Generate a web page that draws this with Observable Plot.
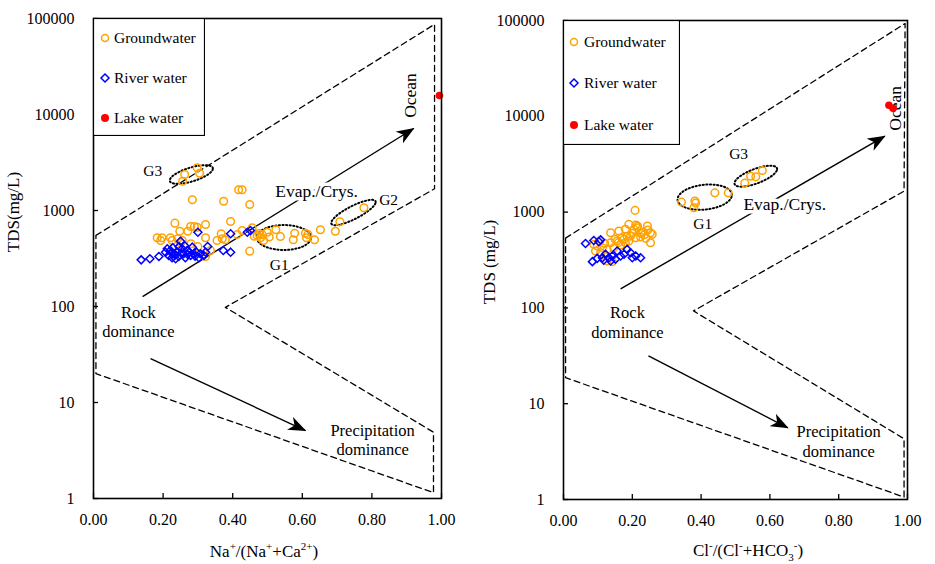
<!DOCTYPE html>
<html><head><meta charset="utf-8">
<script src="https://cdn.jsdelivr.net/npm/d3@7"></script>
<script src="https://cdn.jsdelivr.net/npm/@observablehq/plot@0.6"></script>
<style>
body{margin:0;background:#fff;font-family:"Liberation Serif","DejaVu Serif",serif;}
#wrap{position:relative;width:935px;height:564px;overflow:hidden;}
.panel{position:absolute;top:0;}
.ttl{position:absolute;font-size:17px;white-space:nowrap;color:#000;}
.ttl sup,.ttl sub{font-size:11px;}
.lg{position:absolute;}
</style></head><body><div id="wrap"></div>
<script>
// ---------------- data ----------------
const xTicks = [0, 0.2, 0.4, 0.6, 0.8, 1.0];
const yTicks = [1, 10, 100, 1000, 10000, 100000];

// Left panel: Na+/(Na+ + Ca2+) vs TDS
const gwLeft = [
  [0.262,2371],[0.298,2786],[0.305,2447],[0.256,2019],
  [0.417,1643],[0.427,1643],[0.284,1292],[0.374,1250],[0.449,1155],
  [0.777,1067],[0.708,762],
  [0.394,768],[0.234,738],[0.279,681],[0.290,681],[0.298,670],[0.322,715],
  [0.248,608],[0.271,608],[0.367,572],[0.427,619],[0.456,661],[0.499,594],[0.524,630],
  [0.537,536],[0.578,580],[0.574,495],[0.609,580],[0.616,562],[0.612,520],[0.635,495],
  [0.652,630],[0.695,608],
  [0.183,520],[0.197,520],[0.193,487],[0.226,487],[0.221,520],[0.242,507],[0.255,487],
  [0.355,487],[0.370,507],[0.379,495],[0.480,520],[0.489,487],[0.322,520],
  [0.336,383],[0.322,332],[0.449,377],[0.413,562],[0.470,549],
  [0.462,540],[0.475,575],[0.485,560],[0.505,530],[0.28,450],[0.30,420],[0.25,460]
];
const riverLeft = [
  [0.137,306],[0.162,314],[0.188,332],[0.207,368],[0.216,340],[0.226,322],[0.221,383],
  [0.231,354],[0.241,368],[0.236,314],[0.245,332],[0.250,479],[0.255,399],[0.259,354],
  [0.264,322],[0.269,383],[0.279,340],[0.284,415],[0.288,354],[0.296,368],[0.303,322],
  [0.300,594],[0.307,354],[0.317,340],[0.328,422],[0.322,368],[0.373,383],[0.394,572],
  [0.394,368],[0.442,594],[0.451,619],
  [0.212,400],[0.228,410],[0.246,420],[0.262,430],[0.275,370],[0.292,335],[0.235,345],
  [0.252,360],[0.270,350],[0.225,360]
];
const lakeLeft = [[0.994,15800]];

// Right panel: Cl-/(Cl- + HCO3-) vs TDS
const gwRight = [
  [0.343,1271],[0.382,1303],[0.384,1241],[0.379,1109],[0.440,1588],[0.479,1588],
  [0.527,2005],[0.544,2371],[0.559,2333],[0.578,2718],
  [0.208,1042],[0.190,745],[0.215,715],[0.244,715],[0.137,479],[0.156,499],[0.176,520],
  [0.195,562],[0.210,540],[0.224,549],[0.239,532],[0.253,479],[0.088,461],[0.098,443],
  [0.113,425],[0.127,408],[0.146,425],[0.166,453],[0.180,479],[0.093,393],[0.108,377],
  [0.122,348],[0.127,309],[0.142,304],[0.210,733],[0.215,686],[0.253,608],[0.258,586],
  [0.137,608],[0.161,634],[0.180,661],
  [0.200,600],[0.185,560],[0.170,540],[0.150,520],[0.230,620],[0.245,650],[0.225,600],
  [0.120,470],[0.105,500],[0.160,480],[0.190,500],[0.235,580],[0.205,660]
];
const riverRight = [
  [0.064,470],[0.088,505],[0.103,490],[0.108,515],[0.084,304],[0.098,329],[0.113,334],
  [0.122,363],[0.132,334],[0.142,348],[0.151,322],[0.156,393],[0.166,348],[0.176,363],
  [0.185,408],[0.195,377],[0.200,334],[0.210,348],[0.224,334],[0.117,314],[0.137,309]
];
const lakeRight = [[0.946,13030],[0.958,12110]];

// Gibbs boundary (dashed) vertices
const gibbsLeft = [[0.007,550],[0.98,87000],[0.98,1683],[0.379,98],[0.977,4.9],[0.977,1.15],[0.007,20],[0.007,550]];
const gibbsRight = [[0.006,535],[0.993,93000],[0.99,1655],[0.378,93],[0.99,4.3],[0.99,1.06],[0.006,18.7],[0.006,535]];

// Arrows: [x1, tds1, x2, tds2]
const arrowsLeft = [[0.141,127,0.920,7150],[0.164,28.7,0.609,5.1]];
const arrowsRight = [[0.166,158,0.934,6200],[0.247,31.6,0.652,5.6]];

// Group ellipses: [label, cx, cTDS, rx, rDecades, shear]
const ellipsesLeft = [["G3",0.281,2371,0.062,0.075,1.0],["G1",0.547,523,0.078,0.13,0],["G2",0.747,953,0.064,0.075,1.7]];
const ellipsesRight = [["G1",0.4105,1432,0.079,0.13,0.3],["G3",0.559,2371,0.062,0.08,1.2]];

// Annotation labels: [text, x, tds, rotate, halo, size]
const labelsLeft = [
  ["Rock\ndominance",0.129,69.8,0,false,16.5],["Precipitation\ndominance",0.802,4.12,0,false,16.5],
  ["Evap./Crys.",0.641,1578,0,true,17.5],["Ocean",0.908,15780,-90,false,17.5],
  ["G3",0.17,2612,0,false,15.5],["G1",0.534,274,0,false,15.5],["G2",0.848,1303,0,false,15.5]
];
const labelsRight = [
  ["Rock\ndominance",0.186,71.5,0,false,16.5],["Precipitation\ndominance",0.80,4.12,0,false,16.5],
  ["Evap./Crys.",0.643,1211,0,true,17.5],["Ocean",0.961,12110,-90,false,17.5],
  ["G1",0.405,768,0,false,15.5],["G3",0.509,4120,0,false,15.5]
];

const legendNames = ["Groundwater","River water","Lake water"];
const colors = {gw:"#FFA200", river:"#0000FF", lake:"#FF0000"};
const FONT = '"Liberation Serif", "DejaVu Serif", serif';

// ---------------- helpers ----------------
const toObj = arr => arr.map(([x,y]) => ({x, y}));
function ellipsePoints(list){
  const out = [];
  for (const [id,cx,cy,rx,rd,sh] of list){
    const lc = Math.log10(cy);
    for (let i=0;i<=72;i++){
      const t = i/72*2*Math.PI;
      const dx = rx*Math.cos(t);
      out.push({id, x: cx+dx, y: Math.pow(10, lc + rd*Math.sin(t) + sh*dx)});
    }
  }
  return out;
}

function panel(opts){
  const {width, ml, mr, mt, mb, gw, river, lake, gibbs, arrows, ellipses, labels} = opts;
  const svg = Plot.plot({
    width, height: 564, marginLeft: ml, marginRight: mr, marginTop: mt, marginBottom: mb,
    style: {fontFamily: FONT, fontSize: "16px", background: "transparent", color: "#000", overflow: "visible"},
    x: {domain: [0, 1]},
    y: {type: "log", domain: [1, 100000]},
    marks: [
      Plot.line(toObj(gibbs), {x: "x", y: "y", stroke: "#000", strokeWidth: 1.3, strokeDasharray: "6,4"}),
      Plot.link(arrows.map(([x1,y1,x2,y2]) => ({x1,y1,x2,y2})), {x1:"x1", y1:"y1", x2:"x2", y2:"y2", stroke:"#000", strokeWidth:1.4}),
      Plot.line(ellipsePoints(ellipses), {x:"x", y:"y", z:"id", stroke:"#000", strokeWidth:2, strokeDasharray:"1.2,2.4", strokeLinecap:"round"}),
      Plot.text(labels.filter(d=>!d[4]), {x: d=>d[1], y: d=>d[2], text: d=>d[0], rotate: d=>d[3], fontSize: d=>d[5], fill:"#000", lineHeight: 1.18}),
      Plot.text(labels.filter(d=>d[4]), {x: d=>d[1], y: d=>d[2], text: d=>d[0], fontSize: d=>d[5], fill:"#000", stroke:"#fff", strokeWidth: 7}),
      Plot.dot(toObj(gw), {x:"x", y:"y", r:3.8, stroke: colors.gw, strokeWidth: 1.5, fill: "none"}),
      Plot.dot(toObj(river), {x:"x", y:"y", r:3.6, symbol:"diamond2", stroke: colors.river, strokeWidth: 1.5, fill: "none"}),
      Plot.dot(toObj(lake), {x:"x", y:"y", r:3.8, fill: colors.lake}),
      Plot.frame({stroke:"#000", strokeWidth: 1.6}),
      Plot.axisX({ticks: xTicks, tickFormat: d3.format(".2f"), tickSize: -5, tickPadding: 20, label: null, strokeWidth: 1.3}),
      Plot.axisY({ticks: yTicks, tickFormat: d => String(d), tickSize: -5, tickPadding: 24, label: null, strokeWidth: 1.3})
    ]
  });
  // filled stealth arrowheads on the link mark
  const ns = "http://www.w3.org/2000/svg";
  const id = "stealth" + Math.random().toString(36).slice(2,7);
  const defs = document.createElementNS(ns, "defs");
  const marker = document.createElementNS(ns, "marker");
  marker.setAttribute("id", id);
  marker.setAttribute("markerUnits", "userSpaceOnUse");
  marker.setAttribute("viewBox", "0 0 18 14");
  marker.setAttribute("markerWidth", "18");
  marker.setAttribute("markerHeight", "14");
  marker.setAttribute("refX", "17");
  marker.setAttribute("refY", "7");
  marker.setAttribute("orient", "auto");
  const mp = document.createElementNS(ns, "path");
  mp.setAttribute("d", "M0,0 L18,7 L0,14 L5,7 Z");
  mp.setAttribute("fill", "#000");
  mp.setAttribute("stroke", "none");
  marker.appendChild(mp);
  defs.appendChild(marker);
  svg.insertBefore(defs, svg.firstChild);
  const groups = svg.querySelectorAll('g[aria-label="link"]');
  groups.forEach(g => g.querySelectorAll("path").forEach(p => p.setAttribute("marker-end", `url(#${id})`)));
  return svg;
}

const wrap = document.getElementById("wrap");

const left = panel({width: 467, ml: 93, mr: 26, mt: 18, mb: 66, gw: gwLeft, river: riverLeft, lake: lakeLeft, gibbs: gibbsLeft, arrows: arrowsLeft, ellipses: ellipsesLeft, labels: labelsLeft});
left.classList.add("panel"); left.style.left = "0px";
wrap.appendChild(left);

const right = panel({width: 468, ml: 96, mr: 28, mt: 20, mb: 65, gw: gwRight, river: riverRight, lake: lakeRight, gibbs: gibbsRight, arrows: arrowsRight, ellipses: ellipsesRight, labels: labelsRight});
right.classList.add("panel"); right.style.left = "467px";
wrap.appendChild(right);

// axis titles
function title(html, x, y, rot){
  const d = document.createElement("div");
  d.className = "ttl";
  d.innerHTML = html;
  d.style.left = x + "px"; d.style.top = y + "px";
  d.style.transform = `translate(-50%,-50%)` + (rot ? ` rotate(${rot}deg)` : "");
  wrap.appendChild(d);
}
title("TDS(mg/L)", 14, 212, -90);
title("TDS (mg/L)", 490, 262, -90);
title("Na<sup>+</sup>/(Na<sup>+</sup>+Ca<sup>2+</sup>)", 264, 551, 0);
title("Cl<sup>-</sup>/(Cl<sup>-</sup>+HCO<sub>3</sub><sup>-</sup>)", 748, 551, 0);

// legends
function legend(x, y, w, h, rows, mx, tx){
  const ns = "http://www.w3.org/2000/svg";
  const s = document.createElementNS(ns, "svg");
  s.setAttribute("width", w); s.setAttribute("height", h);
  s.setAttribute("class", "lg");
  s.style.left = x + "px"; s.style.top = y + "px";
  const sym = [
    (cy) => `<circle cx="${mx}" cy="${cy}" r="3.5" fill="none" stroke="${colors.gw}" stroke-width="1.5"/>`,
    (cy) => `<path d="M${mx},${cy-4}L${mx+4},${cy}L${mx},${cy+4}L${mx-4},${cy}Z" fill="none" stroke="${colors.river}" stroke-width="1.5"/>`,
    (cy) => `<circle cx="${mx}" cy="${cy}" r="4" fill="${colors.lake}"/>`
  ];
  let inner = `<rect x="0.5" y="0.5" width="${w-1}" height="${h-1}" fill="#fff" stroke="#000" stroke-width="1.2"/>`;
  rows.forEach((cy, i) => {
    inner += sym[i](cy);
    inner += `<text x="${tx}" y="${cy}" dy="0.35em" font-family='${FONT}' font-size="15.5">${legendNames[i]}</text>`;
  });
  s.innerHTML = inner;
  wrap.appendChild(s);
}
legend(93, 18, 112, 118, [20, 60, 100], 12, 21);
legend(563, 20, 117, 125, [22, 63, 105], 11, 21);
</script>
</body></html>
